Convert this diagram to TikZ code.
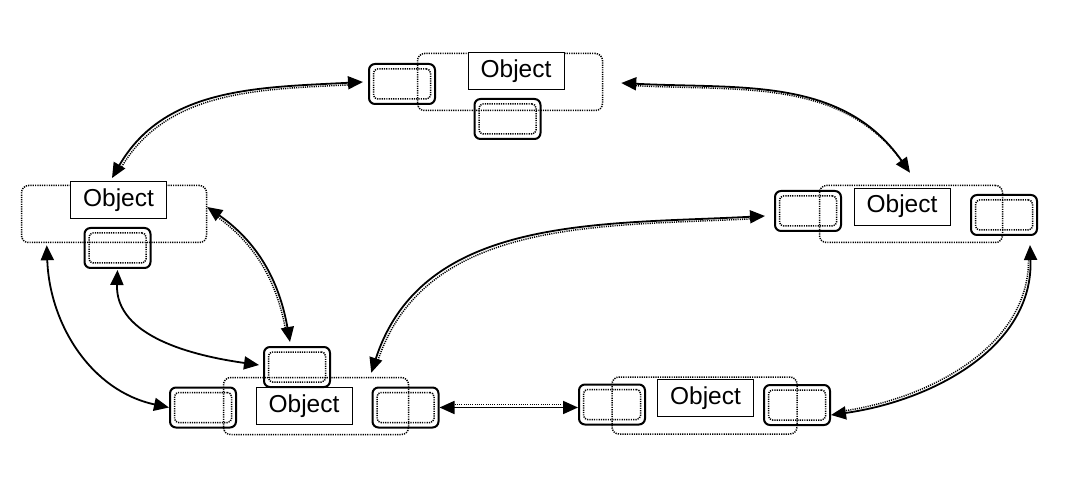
\documentclass[tikz,border=0pt]{standalone}
\usepackage{fontspec}
\setmainfont{Liberation Sans}
\usetikzlibrary{arrows.meta,calc}
\begin{document}
\begin{tikzpicture}[x=1pt,y=-1pt,
  grp/.style={draw, line width=1.5pt, dash pattern=on 1.2pt off 1.1pt, rounded corners=7pt, inner sep=0pt, minimum width=185pt, minimum height=57pt},
  lab/.style={draw, fill=white, line width=0.9pt, inner sep=0pt, minimum width=96pt, minimum height=37pt, font=\fontsize{24.5}{28}\selectfont},
  port/.style={draw, line width=2pt, rounded corners=6pt, inner sep=0pt, minimum width=66pt, minimum height=40pt},
  portin/.style={draw, line width=1.5pt, dash pattern=on 1.2pt off 1.1pt, rounded corners=4pt, inner sep=0pt, minimum width=57pt, minimum height=30pt},
  arr/.style={line width=1.8pt, {Triangle[length=15pt,width=13pt]}-{Triangle[length=15pt,width=13pt]}},
  sarr/.style={line width=1.8pt, {Triangle[length=15pt,width=13pt]}-{Triangle[length=15pt,width=13pt]}},
  comp/.style={line width=1.5pt, dash pattern=on 1.1pt off 1.1pt, shorten <=13pt, shorten >=13pt}
]
\useasboundingbox (0,0) rectangle (1069,481);

% top object
\node[grp] (Tgrp) at (510,82) {};
\node[lab] (Tlab) at (516,71) {Object};
\node[port] (Tpl) at (402,84) {};
\node[portin] (Tpli) at (Tpl.center) {};
\node[port] (Tpb) at (507.5,119) {};
\node[portin] (Tpbi) at (Tpb.center) {};

% left object
\node[grp] (Lgrp) at (114,214) {};
\node[lab] (Llab) at (118.5,200) {Object};
\node[port] (Lpb) at (117.5,248) {};
\node[portin] (Lpbi) at (Lpb.center) {};

% right object
\node[grp, minimum width=183pt] (Rgrp) at (911,214) {};
\node[lab] (Rlab) at (902,206.5) {Object};
\node[port] (Rpl) at (808,211) {};
\node[portin] (Rpli) at (Rpl.center) {};
\node[port] (Rpr) at (1004,215) {};
\node[portin] (Rpri) at (Rpr.center) {};

% bottom-left object
\node[grp] (Bagrp) at (316,406) {};
\node[lab] (Balab) at (304,406) {Object};
\node[port] (Bapt) at (297,367) {};
\node[portin] (Bapti) at (Bapt.center) {};
\node[port] (Bapl) at (203,407.5) {};
\node[portin] (Bapli) at (Bapl.center) {};
\node[port] (Bapr) at (405.5,407.5) {};
\node[portin] (Bapri) at (Bapr.center) {};

% bottom-right object
\node[grp] (Bbgrp) at (704.5,405.5) {};
\node[lab] (Bblab) at (705.5,398) {Object};
\node[port] (Bbpl) at (612,404.5) {};
\node[portin] (Bbpli) at (Bbpl.center) {};
\node[port] (Bbpr) at (797,405) {};
\node[portin] (Bbpri) at (Bbpr.center) {};

% connectors
% 1 left object <-> top left port
\draw[arr] ([xshift=-6.5pt,yshift=3pt]Llab.north) to[out=60,in=183] ([xshift=-5pt,yshift=2pt]Tpl.west);
\draw[comp, transform canvas={shift={(2pt,-2pt)}}] ([xshift=-6.5pt,yshift=3pt]Llab.north) to[out=60,in=183] ([xshift=-5pt,yshift=2pt]Tpl.west);

% 2 top object <-> right object
\draw[arr] ([xshift=18pt,yshift=-1pt]Tgrp.east) to[out=-3,in=125] ([xshift=-1pt,yshift=12pt]Rgrp.north);
\draw[comp, transform canvas={shift={(1.5pt,-2pt)}}] ([xshift=18pt,yshift=-1pt]Tgrp.east) to[out=-3,in=125] ([xshift=-1pt,yshift=12pt]Rgrp.north);

% 3 left object <-> bottom-left top port
\draw[arr] ([yshift=7pt]Lgrp.east) to[out=-35,in=100] ([xshift=-7pt,yshift=4pt]Bapt.north);
\draw[comp, transform canvas={shift={(-2pt,-1.5pt)}}] ([yshift=7pt]Lgrp.east) to[out=-35,in=100] ([xshift=-7pt,yshift=4pt]Bapt.north);

% 4 left bottom port <-> bottom-left top port
\draw[sarr] ([yshift=-1pt]Lpb.south) to[out=-92,in=172] ([xshift=-4pt,yshift=2pt]Bapt.west);

% 5 left object <-> bottom-left left port
\draw[sarr] ([xshift=26pt,yshift=-2pt]Lgrp.south west) to[out=-88,in=168] (Bapl.west);

% 6 bottom-left object <-> right object left port
\draw[arr] ([xshift=-38pt,yshift=4pt]Bagrp.north east) to[out=72,in=183] ([xshift=-9pt,yshift=-5pt]Rpl.west);
\draw[comp, transform canvas={shift={(2pt,-2pt)}}] ([xshift=-38pt,yshift=4pt]Bagrp.north east) to[out=72,in=183] ([xshift=-9pt,yshift=-5pt]Rpl.west);

% 7 bottom-left right port <-> bottom-right left port
\draw[arr] (Bapr.east) -- (Bapr.east -| Bbpl.west);
\draw[comp, transform canvas={shift={(0pt,3pt)}}] (Bapr.east) -- (Bapr.east -| Bbpl.west);

% 8 right object right port <-> bottom-right right port
\draw[arr] ([xshift=-8pt,yshift=-9pt]Rpr.south east) to[out=-88,in=8] ([yshift=-10pt]Bbpr.east);
\draw[comp, transform canvas={shift={(-2pt,2pt)}}] ([xshift=-8pt,yshift=-9pt]Rpr.south east) to[out=-88,in=8] ([yshift=-10pt]Bbpr.east);
\end{tikzpicture}
\end{document}
